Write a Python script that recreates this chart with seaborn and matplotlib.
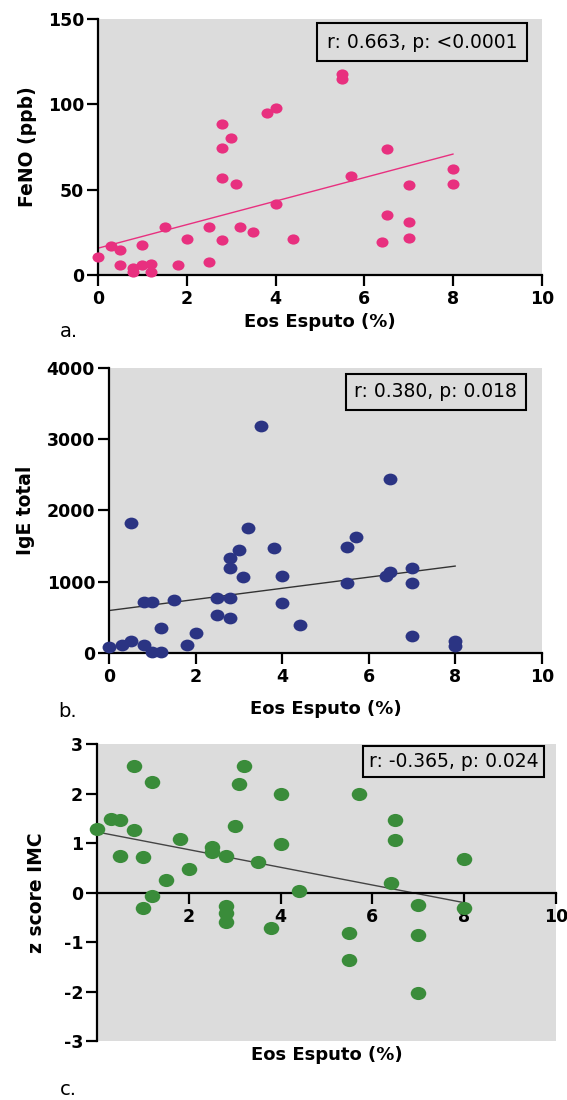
import numpy as np
import matplotlib
matplotlib.use("Agg")
import matplotlib.pyplot as plt
import seaborn as sns
from matplotlib.path import Path
from matplotlib.transforms import Affine2D

# Eos in sputum (%) - same patients in the three panels
eos = [0, 0.3, 0.5, 0.5, 0.8, 0.8, 1.0, 1.0, 1.2, 1.2, 1.5, 1.8, 2.0, 2.5, 2.5,
       2.8, 2.8, 2.8, 2.8, 3.0, 3.1, 3.2, 3.5, 3.8, 4.0, 4.0, 4.4, 5.5, 5.5,
       5.7, 6.4, 6.5, 6.5, 7.0, 7.0, 7.0, 8.0, 8.0]

feno = [10.6, 17, 14.5, 6, 4.3, 2, 17.4, 6, 6.4, 2, 28, 6, 21, 28.4, 7.7,
        88.7, 74.4, 57, 20.3, 80.2, 53.5, 28, 25, 94.7, 97.6, 41.8, 21, 118, 115,
        58, 19.3, 74, 35, 52.6, 31, 21.8, 62, 53.5]

ige = [84, 107, 168, 1827, 107, 710, 710, 9, 9, 350, 738, 117, 276, 771, 537,
       1336, 1187, 771, 495, 1439, 1061, 1757, 3182, 1477, 1084, 706, 388, 1491, 986,
       1626, 1084, 1136, 2435, 1187, 986, 238, 173, 93]

zimc = [1.28, 1.49, 1.46, 0.73, 2.55, 1.27, 0.71, -0.32, 2.24, -0.07, 0.26, 1.09, 0.47, 0.93, 0.81,
        0.74, -0.28, -0.42, -0.59, 1.34, 2.2, 2.55, 0.61, -0.71, 1.99, 0.98, 0.03, -0.81, -1.36,
        2.0, 0.2, 1.46, 1.07, -0.26, -0.86, -2.02, 0.68, -0.32]

stats_txt = ["r: 0.663, p: <0.0001", "r: 0.380, p: 0.018", "r: -0.365, p: 0.024"]
xlab = "Eos Esputo (%)"

sns.set_theme(style="ticks")
plt.rcParams["font.family"] = ["DejaVu Sans"]
plt.rcParams["axes.linewidth"] = 1.6
plt.rcParams["axes.unicode_minus"] = False
plt.rcParams["text.color"] = "black"
plt.rcParams["axes.labelcolor"] = "black"
plt.rcParams["xtick.color"] = "black"
plt.rcParams["ytick.color"] = "black"

bg = "#DCDCDC"
# slightly wide dots, the original figure is stretched sideways
dot = Path.unit_circle().transformed(Affine2D().scale(1.18, 1.0))

fig = plt.figure(figsize=(5.67, 11), dpi=100)
axA = fig.add_axes([0.1728, 0.75, 0.7831, 0.2327])
axB = fig.add_axes([0.1922, 0.4064, 0.7637, 0.2591])
axC = fig.add_axes([0.1711, 0.0536, 0.8095, 0.27])


def style(ax):
    ax.set_facecolor(bg)
    ax.spines["top"].set_visible(False)
    ax.spines["right"].set_visible(False)
    ax.spines["left"].set_color("black")
    ax.spines["bottom"].set_color("black")
    ax.tick_params(axis="both", colors="black", width=1.6, length=8, pad=3,
                   labelsize=12.5)
    ax.tick_params(axis="y", length=8, pad=2)
    for lab in ax.get_xticklabels() + ax.get_yticklabels():
        lab.set_fontweight("bold")


# a. FeNO
sns.regplot(x=eos, y=feno, ax=axA, ci=None, marker=dot,
            scatter_kws=dict(s=75, color="#E8307F", alpha=1, linewidths=0,
                             clip_on=False, zorder=3),
            line_kws=dict(color="#E8307F", lw=1.0, zorder=2))
axA.set_xlim(0, 10)
axA.set_ylim(0, 150)
axA.set_xticks([0, 2, 4, 6, 8, 10])
axA.set_yticks([0, 50, 100, 150])
style(axA)
axA.set_xlabel(xlab, fontsize=13, fontweight="bold")
axA.set_ylabel("FeNO (ppb)", fontsize=13.5, fontweight="bold")
axA.xaxis.set_label_coords(0.5, -0.15)
axA.yaxis.set_label_coords(-0.137, 0.5)
axA.text(0.73, 0.91, stats_txt[0], transform=axA.transAxes, ha="center",
         va="center", fontsize=13.5,
         bbox=dict(boxstyle="square,pad=0.5", fc=bg, ec="black", lw=1.5))

# b. IgE total
sns.regplot(x=eos, y=ige, ax=axB, ci=None, marker=dot,
            scatter_kws=dict(s=100, color="#2B3483", alpha=1, linewidths=0,
                             clip_on=False, zorder=3),
            line_kws=dict(color="#333333", lw=1.0, zorder=2))
axB.set_xlim(0, 10)
axB.set_ylim(0, 4000)
axB.set_xticks([0, 2, 4, 6, 8, 10])
axB.set_yticks([0, 1000, 2000, 3000, 4000])
style(axB)
axB.set_xlabel(xlab, fontsize=13, fontweight="bold")
axB.set_ylabel("IgE total", fontsize=13.5, fontweight="bold")
axB.xaxis.set_label_coords(0.5, -0.165)
axB.yaxis.set_label_coords(-0.171, 0.5)
axB.text(0.755, 0.916, stats_txt[1], transform=axB.transAxes, ha="center",
         va="center", fontsize=13.5,
         bbox=dict(boxstyle="square,pad=0.45", fc=bg, ec="black", lw=1.5))

# c. z score IMC
sns.regplot(x=eos, y=zimc, ax=axC, ci=None, marker=dot,
            scatter_kws=dict(s=125, color="#3A8C3A", alpha=1, linewidths=0,
                             clip_on=False, zorder=3),
            line_kws=dict(color="#444444", lw=1.0, zorder=2))
axC.set_xlim(0, 10)
axC.set_ylim(-3, 3)
axC.set_xticks([2, 4, 6, 8, 10])
axC.set_yticks([-3, -2, -1, 0, 1, 2, 3])
axC.spines["bottom"].set_position(("data", 0))
style(axC)
axC.set_xlabel(xlab, fontsize=13, fontweight="bold")
axC.set_ylabel("z score IMC", fontsize=13.5, fontweight="bold")
axC.xaxis.set_label_coords(0.5, -0.017)
axC.yaxis.set_label_coords(-0.111, 0.5)
axC.text(0.777, 0.941, stats_txt[2], transform=axC.transAxes, ha="center",
         va="center", fontsize=13.5,
         bbox=dict(boxstyle="square,pad=0.32", fc=bg, ec="black", lw=1.5))

# panel letters
fig.text(60 / 567, 1 - 337 / 1100, "a.", fontsize=14, va="baseline")
fig.text(58 / 567, 1 - 717 / 1100, "b.", fontsize=14, va="baseline")
fig.text(60 / 567, 1 - 1095 / 1100, "c.", fontsize=14, va="baseline")

fig.savefig("out.png", dpi=100, facecolor="white")
